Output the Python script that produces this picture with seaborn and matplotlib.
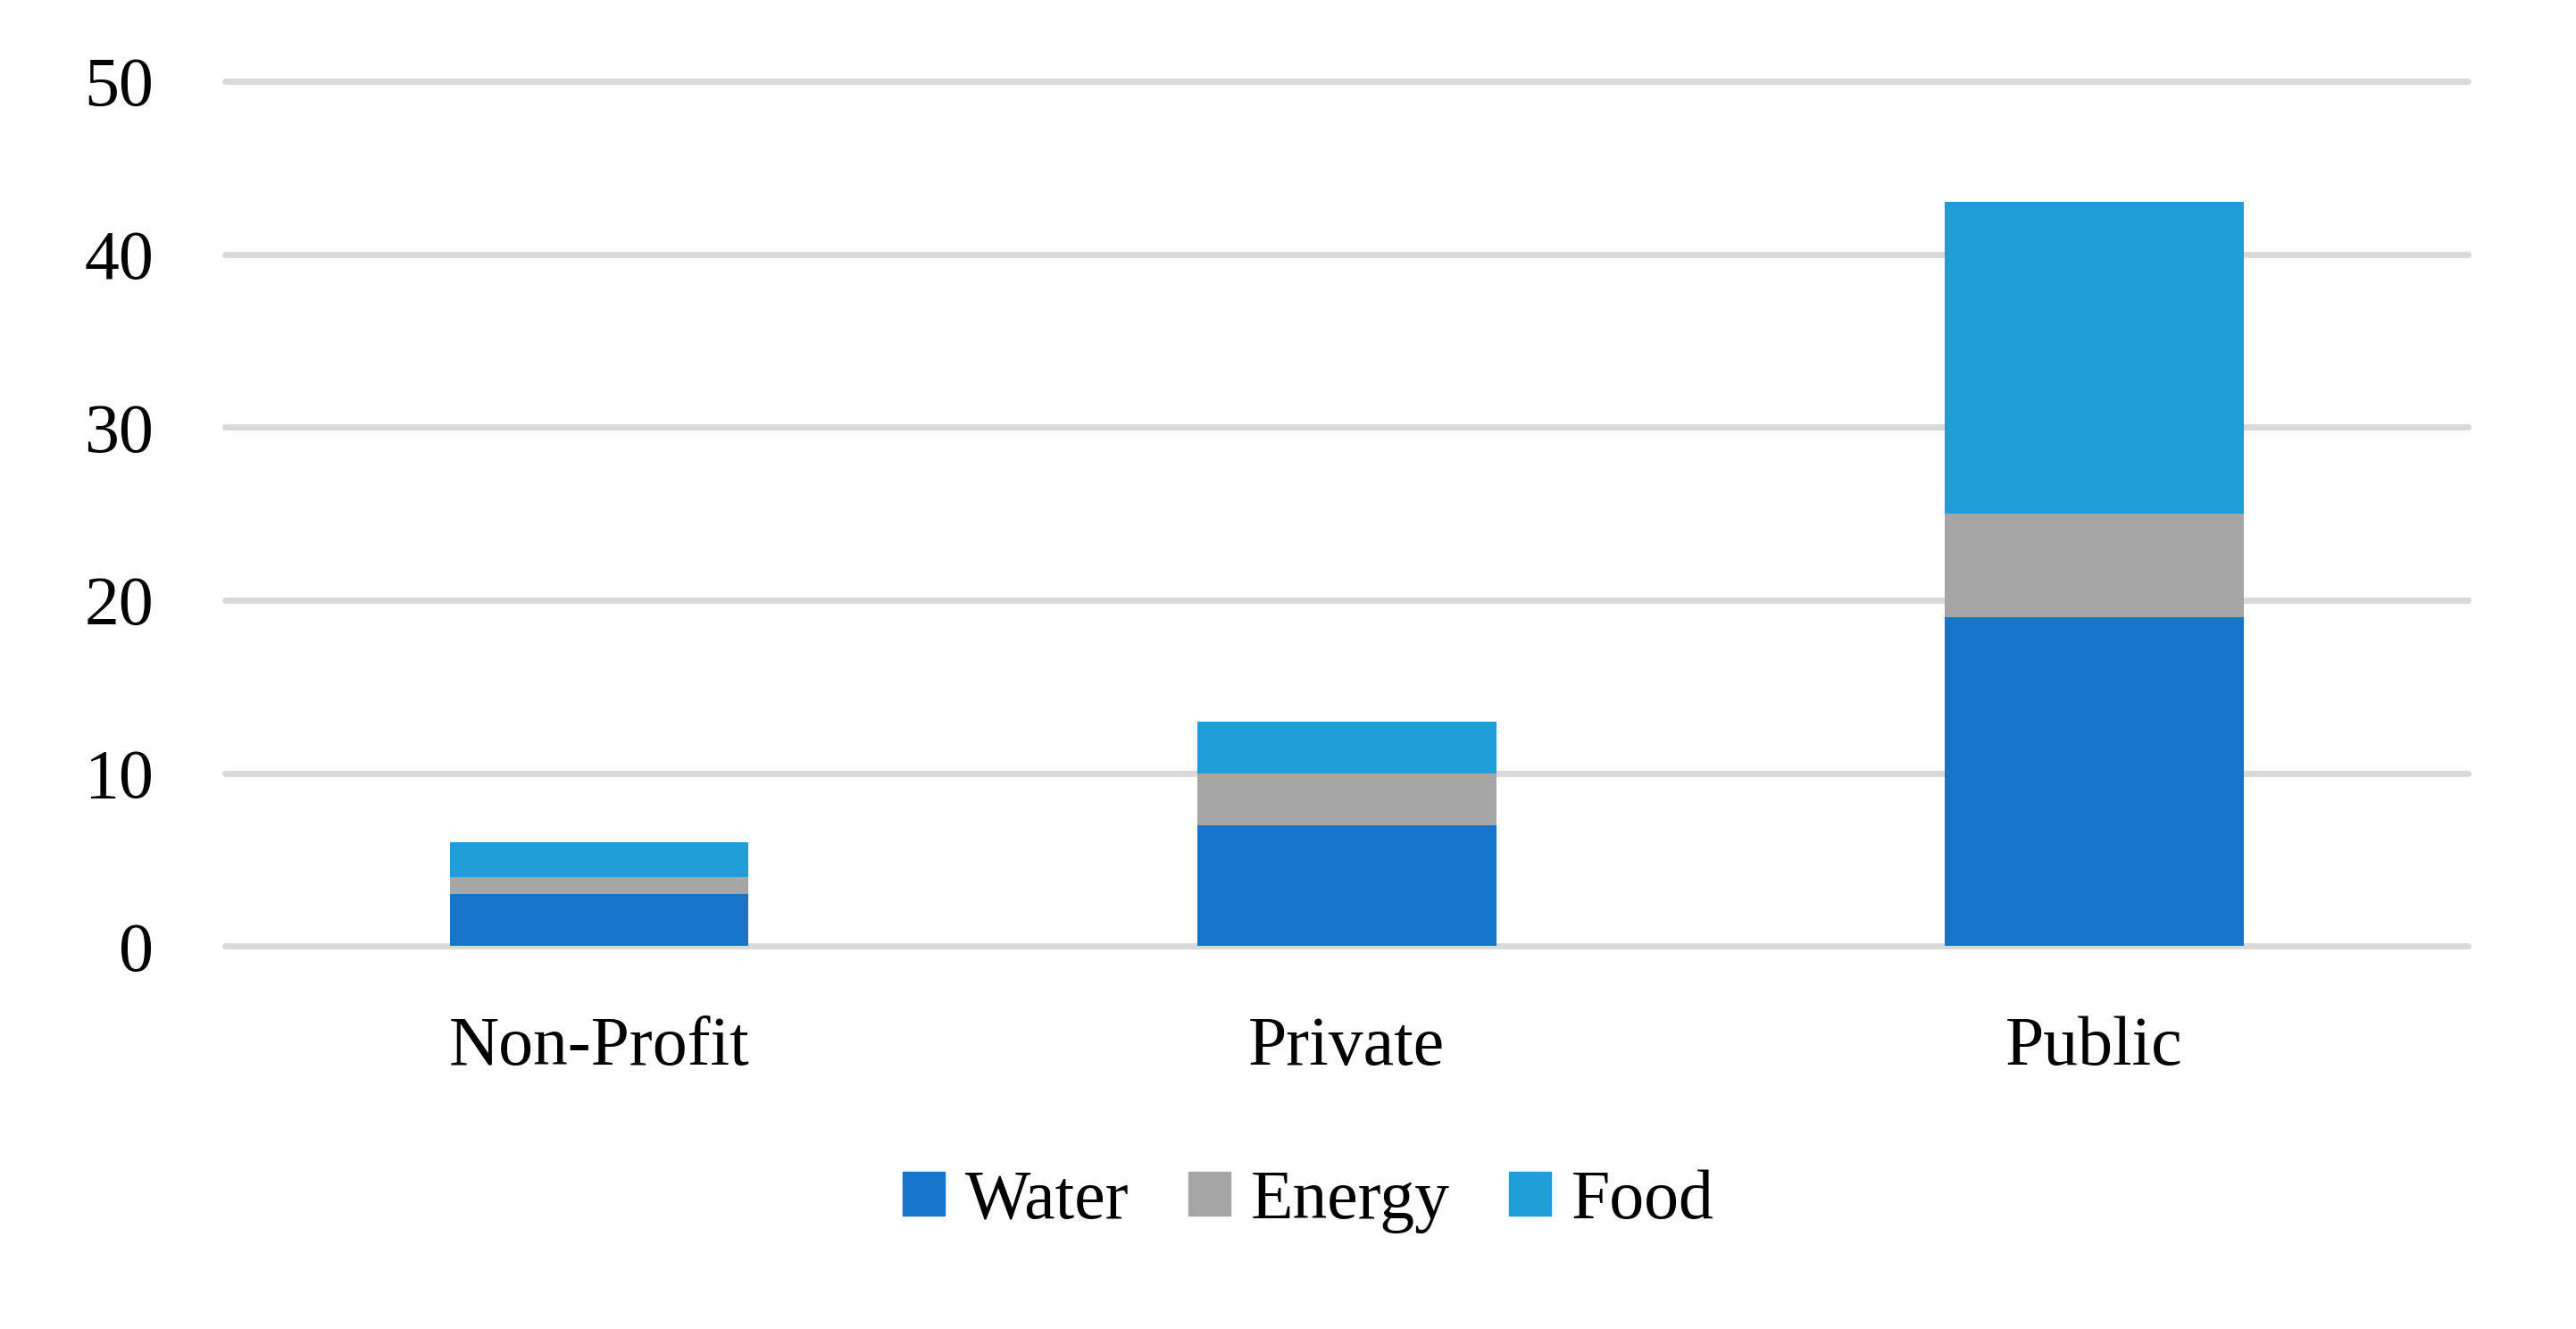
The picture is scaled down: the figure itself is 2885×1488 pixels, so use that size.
import numpy as np
import matplotlib
matplotlib.use("Agg")
import matplotlib.pyplot as plt
import seaborn as sns

# chart data
categories = ["Non-Profit", "Private", "Public"]
water = [3, 7, 19]
energy = [1, 3, 6]
food = [2, 3, 18]

series_names = ["Water", "Energy", "Food"]
series_colors = ["#1874C9", "#A6A6A6", "#1E9DD8"]

sns.set_theme(style="white")
plt.rcParams["font.family"] = ["Liberation Serif", "DejaVu Serif"]

fig = plt.figure(figsize=(28.85, 14.88), dpi=100)
ax = fig.add_axes([0.0875, 0.288, 0.8705, 0.651])

# stacked bars: draw cumulative totals from the top layer down
stack = [np.array(water), np.array(energy), np.array(food)]
cum = np.cumsum(stack, axis=0)
handles = {}
for i in reversed(range(len(series_names))):
    sns.barplot(x=categories, y=cum[i], color=series_colors[i], width=0.4,
                saturation=1, linewidth=0, ax=ax, zorder=3)
    handles[series_names[i]] = plt.Rectangle((0, 0), 1, 1, color=series_colors[i])

ax.set_ylim(0, 50)
ax.set_xlim(-0.5, 2.5)
ax.set_yticks([0, 10, 20, 30, 40, 50])
ax.yaxis.grid(True, color="#D9D9D9", linewidth=5, zorder=0)
ax.xaxis.grid(False)
for gl in ax.get_ygridlines():
    gl.set_clip_on(False)
for s in ax.spines.values():
    s.set_visible(False)
ax.tick_params(axis="y", length=0, pad=58, labelsize=56, labelcolor="black")
ax.tick_params(axis="x", length=0, pad=56, labelsize=56, labelcolor="black")
ax.set_xlabel("")
ax.set_ylabel("")

leg = fig.legend([handles[n] for n in series_names], series_names,
                 loc="center", bbox_to_anchor=(0.508, 0.096), ncol=3, frameon=False,
                 fontsize=56, handlelength=0.6, handleheight=0.6,
                 handletextpad=0.3, columnspacing=0.85)
for t in leg.get_texts():
    t.set_color("black")

fig.savefig("out.png", dpi=100, facecolor="white")
